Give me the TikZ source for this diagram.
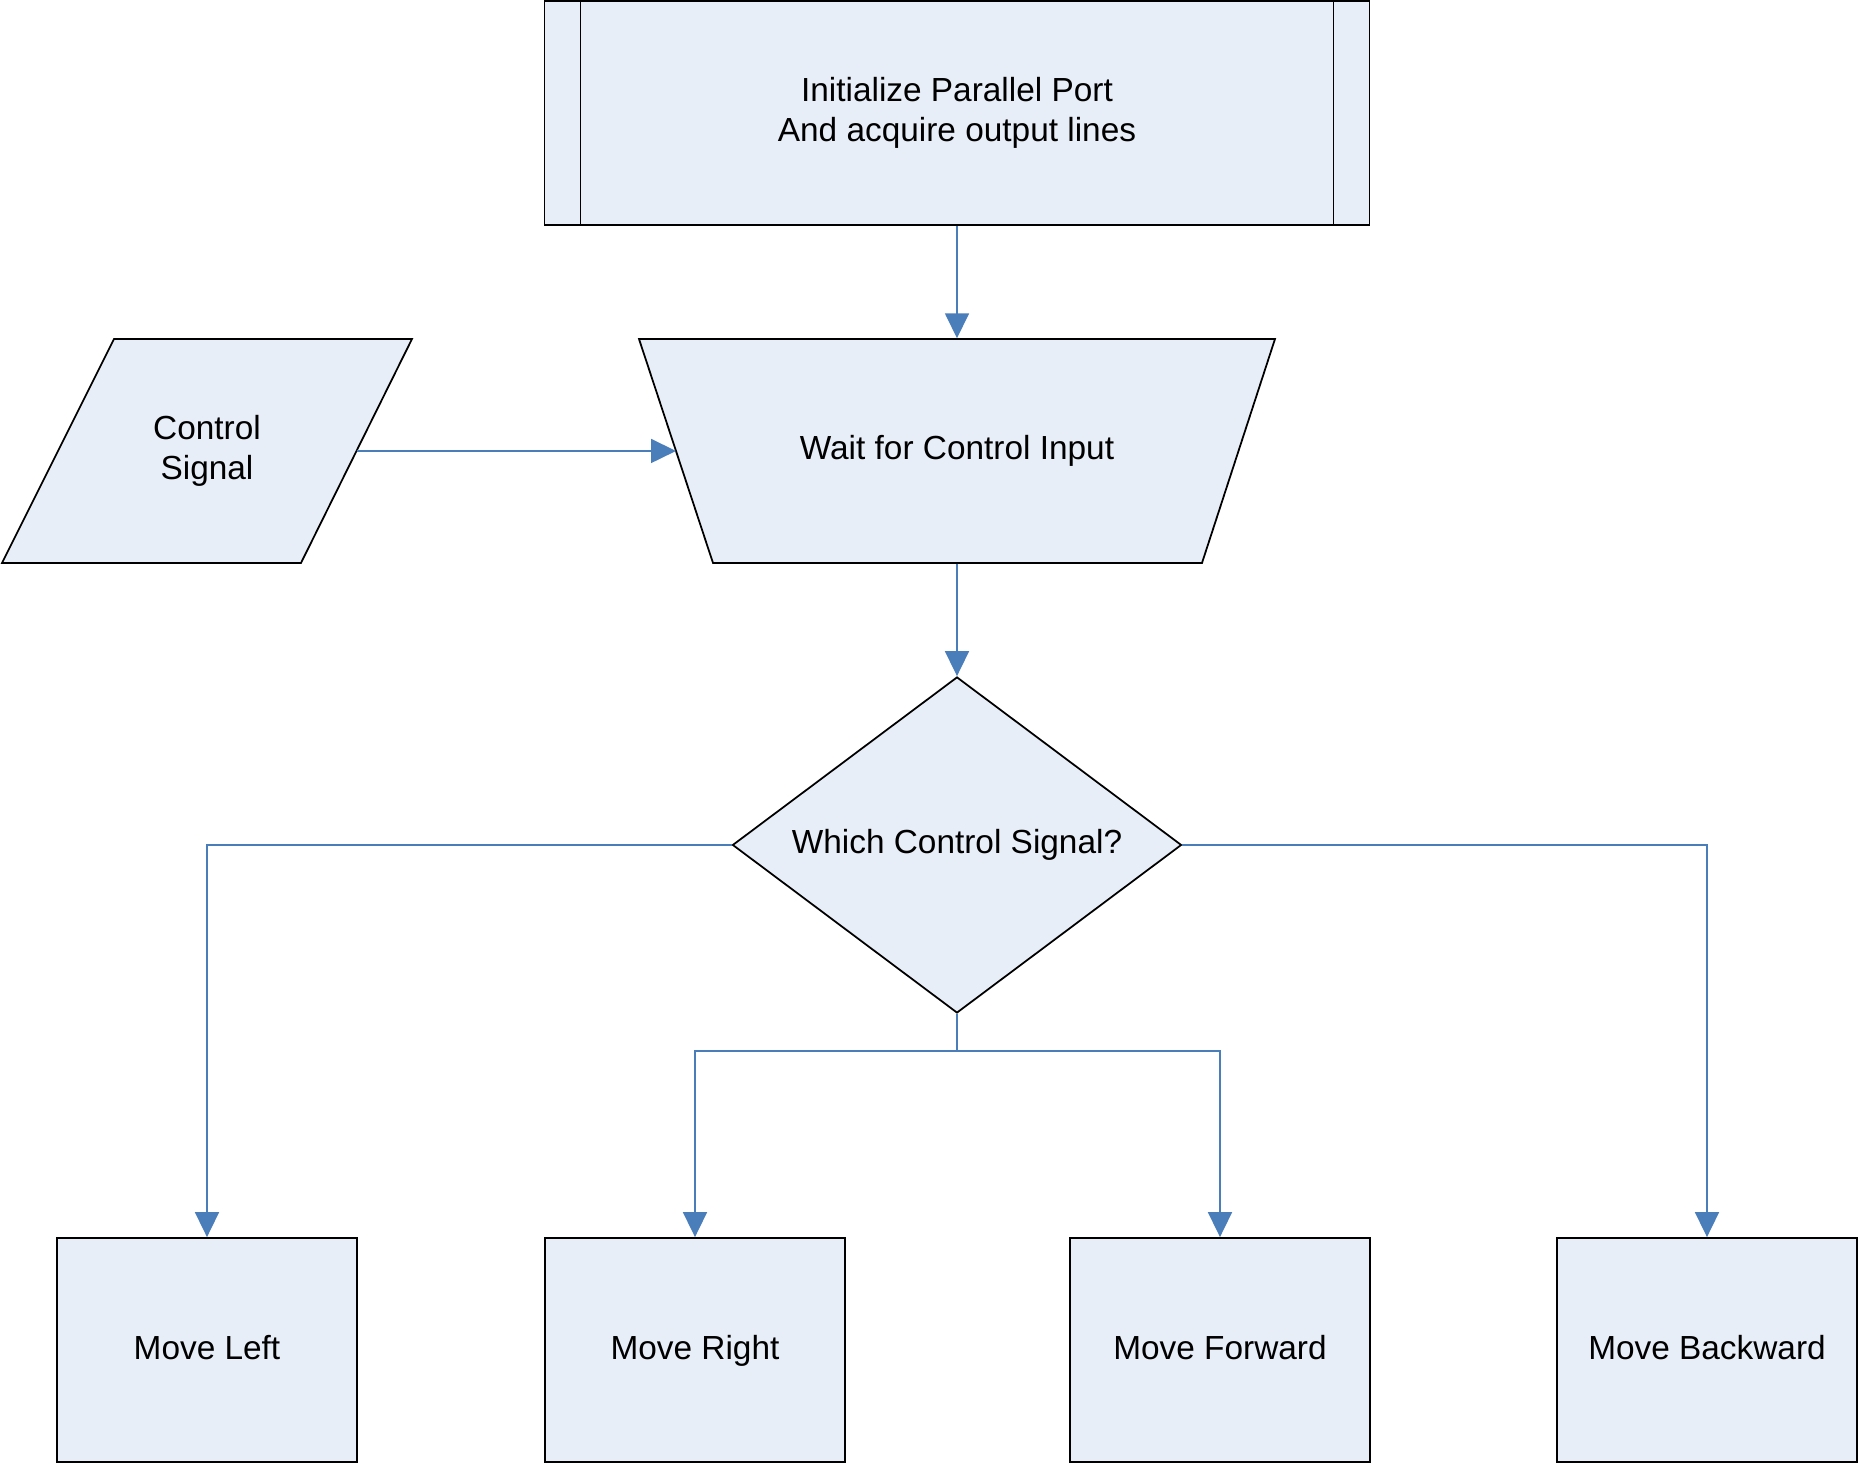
\documentclass[tikz,border=0pt]{standalone}
\usepackage{fontspec}
\setmainfont{Liberation Sans}
\usetikzlibrary{shapes.geometric,arrows.meta}
\definecolor{boxfill}{RGB}{232,238,247}
\definecolor{flowblue}{RGB}{74,126,187}
\tikzset{
  txt/.style={inner sep=0pt,align=center,font=\fontsize{9.5}{11.5}\selectfont},
  shp/.style={txt,draw=black,line width=0.5pt,fill=boxfill},
  procbox/.style={shp,rectangle,minimum width=3cm,minimum height=2.24cm,text height=0.75em,text depth=0.22em},
  flow/.style={draw=flowblue,line width=0.5pt,-{Triangle[length=2.5mm,width=2.4mm]}}
}
\begin{document}
\begin{tikzpicture}
      \useasboundingbox (0,0) rectangle (18.58,14.64);
      \node[shp,rectangle,minimum width=8.25cm,minimum height=2.24cm] (init) at (9.57,13.51)
        {Initialize Parallel Port\\And acquire output lines};
      \draw ([xshift=0.37cm]init.north west) -- ([xshift=0.37cm]init.south west);
      \draw ([xshift=-0.37cm]init.north east) -- ([xshift=-0.37cm]init.south east);
      % manual input and manual operation
      \draw[shp] (1.14,11.25) -- (4.12,11.25) -- (3.01,9.01) -- (0.02,9.01) -- cycle;
      \draw[shp] (6.39,11.25) -- (12.75,11.25) -- (12.02,9.01) -- (7.13,9.01) -- cycle;
      \node[txt] (ctrl) at (2.07,10.13) {Control\\Signal};
      \node[txt,minimum height=2.24cm] (wait) at (9.57,10.13) {Wait for Control Input};
      \coordinate (ctrlout) at (3.565,10.13);
      \coordinate (waitin) at (6.76,10.13);
      \node[shp,diamond,aspect=1.336,minimum width=4.49cm,minimum height=3.36cm] (which) at (9.57,6.19)
        {Which Control Signal?};
      \node[procbox] (mleft) at (2.07,1.14) {Move Left};
      \node[procbox] (mright) at (6.95,1.14) {Move Right};
      \node[procbox] (mfwd) at (12.20,1.14) {Move Forward};
      \node[procbox] (mback) at (17.07,1.14) {Move Backward};
      \draw[flow] (init.south) -- (wait.north);
      \draw[flow] (ctrlout) -- (waitin);
      \draw[flow] (wait.south) -- (which.north);
      \draw[flow] (which.west) -| (mleft.north);
      \draw[flow] (which.east) -| (mback.north);
      \draw[draw=flowblue,line width=0.5pt] (which.south) -- ++(0,-0.37) coordinate (split);
      \draw[flow] (split) -| (mright.north);
      \draw[flow] (split) -| (mfwd.north);
    \end{tikzpicture}
\end{document}
